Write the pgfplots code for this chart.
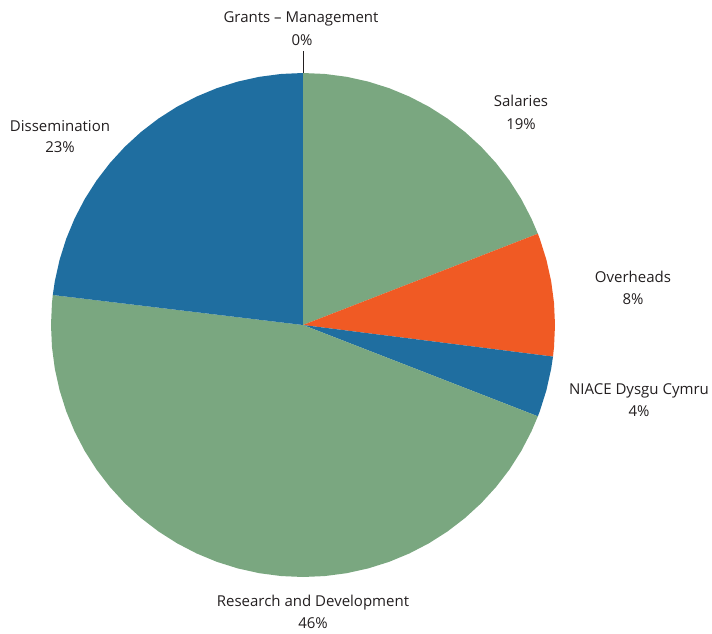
\documentclass[border=0pt]{standalone}
\usepackage{pgfplots}
\pgfplotsset{compat=1.18}
\usepgfplotslibrary{polar}
\usepackage{fontspec}
\setmainfont{Open Sans}
\definecolor{pgreen}{RGB}{122,167,128}
\definecolor{pblue}{RGB}{31,110,160}
\definecolor{porange}{RGB}{240,90,36}
\definecolor{ptext}{RGB}{35,31,32}
\begin{document}
\begin{tikzpicture}
\path[use as bounding box] (0pt,0pt) rectangle (712pt,-634pt);
% Shares (%): Salaries 19.1, Overheads 7.9, NIACE Dysgu Cymru 3.9,
% Research and Development 46.0, Dissemination 23.1, Grants - Management 0
% Slices drawn clockwise from 90 deg; 1% = 3.6 deg.
\begin{polaraxis}[
  at={(303pt,-325pt)}, anchor=center,
  scale only axis, width=504pt, height=504pt,
  xmin=0, xmax=360, ymin=0, ymax=1,
  hide axis, clip=false,
]
% Salaries 19.1% : 90 -> 21.24
\addplot[draw=none, fill=pgreen] coordinates {(0,0) (90,1) (85,1) (80,1) (75,1) (70,1) (65,1) (60,1) (55,1) (50,1) (45,1) (40,1) (35,1) (30,1) (25,1) (21.24,1) (0,0)} -- cycle;
% Overheads 7.9% : 21.24 -> -7.2
\addplot[draw=none, fill=porange] coordinates {(0,0) (21.24,1) (20,1) (15,1) (10,1) (5,1) (0,1) (-5,1) (-7.2,1) (0,0)} -- cycle;
% NIACE Dysgu Cymru 3.9% : -7.2 -> -21.24
\addplot[draw=none, fill=pblue] coordinates {(0,0) (-7.2,1) (-10,1) (-15,1) (-20,1) (-21.24,1) (0,0)} -- cycle;
% Research and Development 46.0% : -21.24 -> -186.84
\addplot[draw=none, fill=pgreen] coordinates {(0,0) (-21.24,1) (-25,1) (-30,1) (-35,1) (-40,1) (-45,1) (-50,1) (-55,1) (-60,1) (-65,1) (-70,1) (-75,1) (-80,1) (-85,1) (-90,1) (-95,1) (-100,1) (-105,1) (-110,1) (-115,1) (-120,1) (-125,1) (-130,1) (-135,1) (-140,1) (-145,1) (-150,1) (-155,1) (-160,1) (-165,1) (-170,1) (-175,1) (-180,1) (-185,1) (-186.84,1) (0,0)} -- cycle;
% Dissemination 23.1% : -186.84 -> -270
\addplot[draw=none, fill=pblue] coordinates {(0,0) (-186.84,1) (-190,1) (-195,1) (-200,1) (-205,1) (-210,1) (-215,1) (-220,1) (-225,1) (-230,1) (-235,1) (-240,1) (-245,1) (-250,1) (-255,1) (-260,1) (-265,1) (-270,1) (0,0)} -- cycle;
% Grants - Management 0% : leader line
\addplot[ptext, line width=0.9pt] coordinates {(90,1) (90,1.087)};
\end{polaraxis}
\begin{scope}[every node/.style={text=ptext, font=\fontsize{15}{17}\selectfont, anchor=base, inner sep=0pt}]
\node at (301pt,-23pt) {Grants – Management};
\node at (302pt,-45.5pt) {0\%};
\node at (521pt,-106.5pt) {Salaries};
\node at (521pt,-129.5pt) {19\%};
\node at (633pt,-282pt) {Overheads};
\node at (633pt,-304pt) {8\%};
\node at (639pt,-394pt) {NIACE Dysgu Cymru};
\node at (639pt,-416.5pt) {4\%};
\node at (313pt,-606pt) {Research and Development};
\node at (313pt,-628pt) {46\%};
\node at (60pt,-131.5pt) {Dissemination};
\node at (60pt,-152.5pt) {23\%};
\end{scope}
\end{tikzpicture}
\end{document}
